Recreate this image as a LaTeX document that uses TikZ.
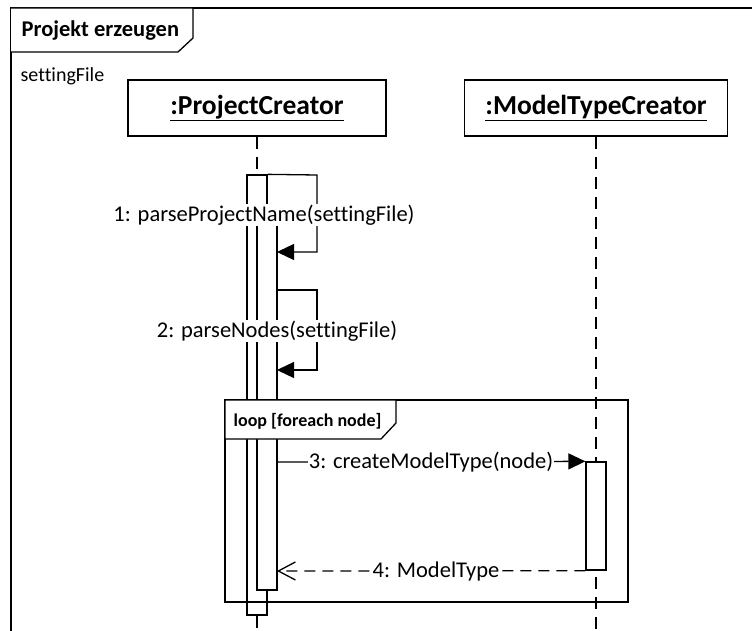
\documentclass[tikz,border=0pt]{standalone}
\usepackage{fontspec}
\setmainfont{Carlito}[Ligatures=NoCommon]
\usetikzlibrary{arrows.meta}

\begin{document}
\begin{tikzpicture}[x=1pt, y=-1pt, line width=1.3pt,
  obj/.style={draw, fill=white, inner sep=0pt, minimum height=56pt,
    font=\fontsize{27.5}{32}\selectfont\bfseries},
  actbar/.style={draw, fill=white, inner sep=0pt, minimum width=20pt},
  lifeline/.style={dash pattern=on 12pt off 8pt},
  msg/.style={-{Triangle[length=17pt,width=16pt]}},
  reply/.style={dash pattern=on 11pt off 7pt, -{Straight Barb[length=17pt,width=18pt,line width=1.3pt]}},
  lbl/.style={fill=white, inner sep=1pt, font=\fontsize{22.5}{26}\selectfont},
  tabtext/.style={inner sep=0pt, anchor=west}
]
\useasboundingbox (0,0) rectangle (752,631);
\clip (0,0) rectangle (752,631);

% outer sequence frame with its name tab
\draw (11,8) rectangle (800,700);
\draw[fill=white] (11,8) -- (193,8) -- (193,38) -- (178,52) -- (11,52);
\node[tabtext, font=\fontsize{22.5}{26}\selectfont\bfseries] (title) at (21,31) {Projekt erzeugen};
\node[tabtext, font=\fontsize{20}{24}\selectfont] (param) at (20,76) {settingFile};

% lifeline heads
\node[obj, minimum width=258pt] (pc) at (257,108) {\underline{:ProjectCreator}};
\node[obj, minimum width=263pt] (mtc) at (596,108) {\underline{:ModelTypeCreator}};

% lifeline ends
\coordinate (pcEnd) at (257,640);
\coordinate (mtcEnd) at (596,640);

% activation bars
\node[actbar, minimum height=440pt] (barA) at (257,395) {};
\draw[lifeline] (pc.south) -- (barA.north);
\draw[lifeline] (barA.south) -- (pcEnd);
\draw[lifeline] (mtc.south) -- (mtcEnd);
\node[actbar, minimum height=440pt] at (257,395) {};
\node[actbar, minimum height=380pt] (barB) at (267,400) {};
\node[actbar, minimum height=108pt] (barC) at (596,516) {};

% loop fragment
\draw (225,400) rectangle (628,602);
\draw[fill=white] (225,400) -- (396,400) -- (396,423) -- (381,439) -- (225,439) -- cycle;
\node[tabtext, font=\fontsize{18}{21}\selectfont\bfseries] (loop) at (233,421) {loop [foreach node]};

% self calls
\coordinate (s1a) at (317,175);
\coordinate (s1b) at (317,252);
\coordinate (s1t) at (277,252);
\draw[msg] (barA.north east) -- (s1a) -- (s1b) -- (s1t);
\node[lbl] (m1) at (264,215) {1: parseProjectName(settingFile)};

\coordinate (s2s) at (277,290);
\coordinate (s2a) at (317,290);
\coordinate (s2b) at (317,370);
\coordinate (s2t) at (277,370);
\draw[msg] (s2s) -- (s2a) -- (s2b) -- (s2t);
\node[lbl] (m2) at (277,331) {2: parseNodes(settingFile)};

% call and reply inside the loop
\coordinate (c3) at (277,462);
\draw[msg] (c3) -- (barC.north west);
\node[lbl] (m3) at (431,462) {3: createModelType(node)};

\coordinate (r4) at (277,571);
\draw[reply] (barC.south west) -- (r4);
\node[lbl] (m4) at (436,571) {4: ModelType};
\end{tikzpicture}
\end{document}
